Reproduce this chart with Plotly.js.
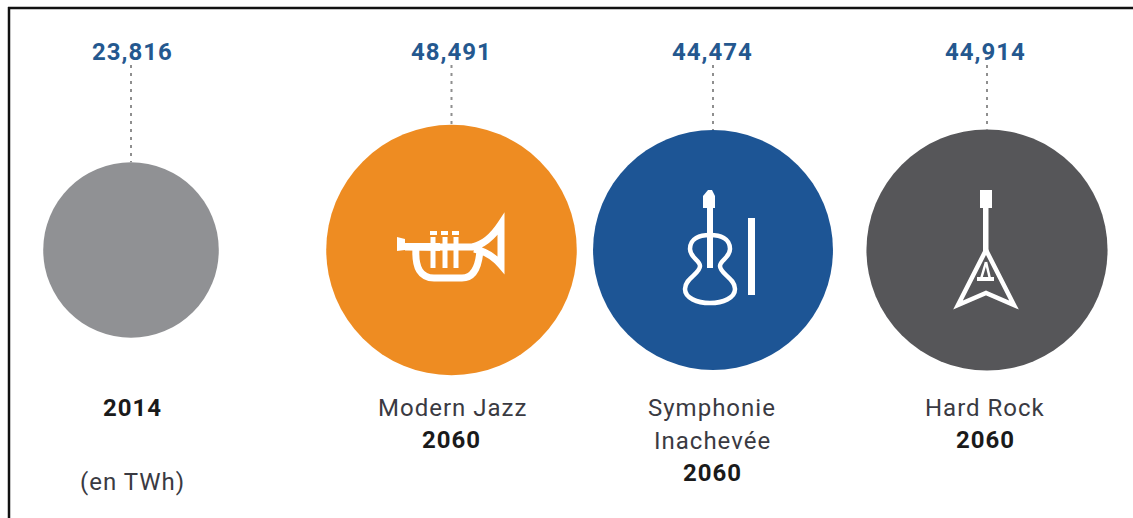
<!DOCTYPE html>
<html>
<head>
<meta charset="utf-8">
<script src="https://cdn.plot.ly/plotly-3.0.1.min.js"></script>
<style>html,body{margin:0;padding:0;background:#fff}#chart{width:1133px;height:518px}
.annotation-text{letter-spacing:1px}</style>
</head>
<body>
<div id="chart"></div>
<script>
const categories = ["2014", "Modern Jazz", "Symphonie<br>Inachevée", "Hard Rock"];
const years = ["", "2060", "2060", "2060"];
const values = [23.816, 48.491, 44.474, 44.914];
const valueLabels = ["23,816", "48,491", "44,474", "44,914"];
const colors = ["#909194", "#ee8c22", "#1d5595", "#565659"];
const centerX = [131, 451.5, 713, 987];
const centerY = [250, 250, 250, 250];
const labelX = [132.5, 451.5, 712, 985.5];
const unitLabel = "(en TWh)";

const sizeref = 0.001545;
const radius = v => Math.sqrt(v / (2 * sizeref));
const font = "Roboto, sans-serif";
const lineTraces = values.map((v, i) => ({
  type: "scatter", mode: "lines", x: [centerX[i], centerX[i]], y: [65, centerY[i] - radius(v)],
  line: {color: "#8f8f8f", width: 2, dash: "3px 5px"}, hoverinfo: "skip", showlegend: false
}));
const bubbles = {
  type: "scatter", mode: "markers", x: centerX, y: centerY,
  marker: {size: values, sizemode: "area", sizeref: sizeref, color: colors, line: {width: 0}, opacity: 1},
  showlegend: false, hoverinfo: "skip"
};

function solid(path) {
  return {type: "path", xref: "x", yref: "y", path, layer: "above", fillcolor: "#ffffff", line: {width: 0}};
}
function stroke(path, width) {
  return {type: "path", xref: "x", yref: "y", path, layer: "above", fillcolor: "rgba(0,0,0,0)", line: {color: "#ffffff", width}};
}
const trumpet = [
  solid("M397 237 L405 239 L405 243 L440 243 L440 251 L405 250 L397 251 Z"),
  stroke("M405 247 L472 247 Q488 244 501 224 L501 265 Q490 252 474 249", 7),
  stroke("M416 248 Q414 278 434 278 L462 278 Q478 278 480 250", 7),
  stroke("M433 237 L433 268", 5), stroke("M445 237 L445 268", 5), stroke("M456 237 L456 268", 5),
  solid("M430 231 L437 231 L437 235 L430 235 Z"), solid("M441 231 L448 231 L448 235 L441 235 Z"), solid("M452 231 L459 231 L459 235 L452 235 Z")
];
const violin = [
  solid("M708 190 L712 190 L715 196 L715 208 L703 208 L703 196 Z"),
  solid("M707 205 L713 205 L713 268 L707 268 Z"),
  stroke("M710 235 C700 235 690 238 690 249 C690 258 700 260 700 266 C700 274 685 278 685 289 C685 298 697 303 710 303 C723 303 735 298 735 289 C735 278 720 274 720 266 C720 260 730 258 730 249 C730 238 720 235 710 235 Z", 4.5),
  solid("M748 218 L755 218 L755 295 L748 295 Z")
];
const guitar = [
  solid("M980 190 L992 190 L992 208 L980 208 Z"),
  solid("M983 205 L988.5 205 L988.5 253 L983 253 Z"),
  stroke("M986 250 L958 305 L986 293 L1014 305 Z", 4.5),
  solid("M977 277 L994 277 L994 281 L977 281 Z"),
  stroke("M986 262 L981 279", 2.5), stroke("M986 262 L990 279", 2.5)
];

const frame = [
  {type: "line", xref: "x", yref: "y", x0: 8, x1: 1133, y0: 8, y1: 8, line: {color: "#111", width: 2.5}},
  {type: "line", xref: "x", yref: "y", x0: 9, x1: 9, y0: 7, y1: 518, line: {color: "#111", width: 2.5}}
];

function note(x, y, text, color, weight) {
  return {x, y, xref: "x", yref: "y", text, showarrow: false, xanchor: "center", yanchor: "middle",
    font: {family: font, size: 24, color, weight: weight || 400}, align: "center"};
}
const [symphonie, inachevee] = categories[2].split("<br>");
const annotations = [];
valueLabels.forEach((t, i) => annotations.push(note(labelX[i], 52, t, "#24588f", 700)));
annotations.push(note(132.5, 408, categories[0], "#1a1a1a", 700));
annotations.push(note(452, 408, categories[1], "#3a3a42", 400));
annotations.push(note(451.5, 440, years[1], "#1a1a1a", 700));
annotations.push(note(712, 408, symphonie, "#3a3a42", 400));
annotations.push(note(712, 441, inachevee, "#3a3a42", 400));
annotations.push(note(712, 473, years[2], "#1a1a1a", 700));
annotations.push(note(985, 408, categories[3], "#3a3a42", 400));
annotations.push(note(985, 440, years[3], "#1a1a1a", 700));
annotations.push(note(132, 482, unitLabel, "#3a3a42", 400));

Plotly.newPlot("chart", [...lineTraces, bubbles], {
  width: 1133, height: 518, margin: {l: 0, r: 0, t: 0, b: 0},
  paper_bgcolor: "#ffffff", plot_bgcolor: "#ffffff",
  xaxis: {range: [0, 1133], visible: false, fixedrange: true},
  yaxis: {range: [518, 0], visible: false, fixedrange: true},
  showlegend: false,
  shapes: [...frame, ...trumpet, ...violin, ...guitar],
  annotations
}, {staticPlot: true, displayModeBar: false});
</script>
</body>
</html>
